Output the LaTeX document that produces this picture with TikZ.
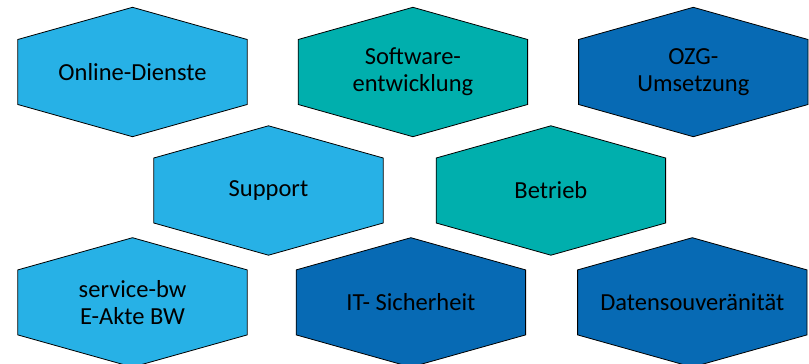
\documentclass[tikz,border=0pt]{standalone}
\usepackage{fontspec}
\setmainfont{Carlito}
\usepackage{tikz}
\usetikzlibrary{calc}
\usetikzlibrary{positioning}
\usetikzlibrary{backgrounds}
\definecolor{lightblue}{RGB}{39,177,230}
\definecolor{tealgreen}{RGB}{0,175,173}
\definecolor{darkblue}{RGB}{7,106,180}
\tikzstyle{hexnode} = [minimum width=229pt, minimum height=129pt, inner sep=0pt, align=center, font=\fontsize{24.5}{27}\selectfont]
\tikzstyle{hexline} = [draw=black, line width=0.8pt, line join=miter]
\newcommand{\hexcell}[2]{%
  \filldraw[hexline, fill=#2] (#1.north) -- ($(#1.east)+(0pt,32.5pt)$) -- ($(#1.east)+(0pt,-32.5pt)$)
    -- (#1.south) -- ($(#1.west)+(0pt,-32.5pt)$) -- ($(#1.west)+(0pt,32.5pt)$) -- cycle;}

\begin{document}
\begin{tikzpicture}[x=1pt, y=-1pt]
  \useasboundingbox (0,0) rectangle (809,364);

  \node[hexnode] (online) at (132.5,72) {Online-Dienste};
  \node[hexnode, right=51pt of online] (software) {Software-\\entwicklung};
  \node[hexnode, right=51pt of software] (ozg) {OZG-\\Umsetzung};

  \node[hexnode] (support) at (268.5,190.5) {Support};
  \node[hexnode, right=53pt of support] (betrieb) {Betrieb};

  \node[hexnode, below=101pt of online] (servicebw) {service-bw\\E-Akte BW};
  \node[hexnode, right=49pt of servicebw] (itsec) {IT- Sicherheit};
  \node[hexnode, right=52pt of itsec] (daten) {Datensouveränität};

  \begin{scope}[on background layer]
    \hexcell{online}{lightblue}
    \hexcell{software}{tealgreen}
    \hexcell{ozg}{darkblue}
    \hexcell{support}{lightblue}
    \hexcell{betrieb}{tealgreen}
    \hexcell{servicebw}{lightblue}
    \hexcell{itsec}{darkblue}
    \hexcell{daten}{darkblue}
  \end{scope}
\end{tikzpicture}
\end{document}
